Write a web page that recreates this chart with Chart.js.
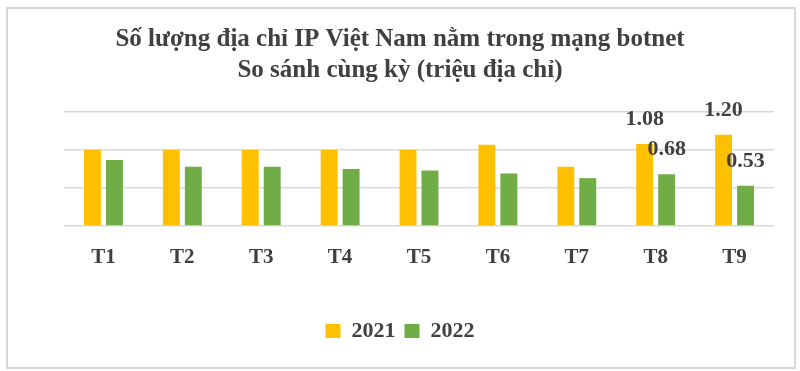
<!DOCTYPE html>
<html>
<head>
<meta charset="utf-8">
<script src="https://cdn.jsdelivr.net/npm/chart.js@4/dist/chart.umd.min.js"></script>
<style>
  html, body { margin: 0; padding: 0; background: #fff; }
  #wrap { position: relative; width: 800px; height: 371px; }
  #frame { position: absolute; left: 6px; top: 7px; width: 786px; height: 358px;
           border: 2px solid #d9d9d9; pointer-events: none; }
</style>
</head>
<body>
<div id="wrap">
  <canvas id="myChart" width="800" height="371"></canvas>
  <div id="frame"></div>
</div>
<script>
// DU LIEU
const thang = ["T1", "T2", "T3", "T4", "T5", "T6", "T7", "T8", "T9"];
const nam2021 = [1.00, 1.00, 1.00, 1.00, 1.00, 1.07, 0.78, 1.08, 1.20];
const nam2022 = [0.87, 0.78, 0.78, 0.75, 0.73, 0.69, 0.63, 0.68, 0.53];
// nhan chi hien o T8, T9
const nhan2021 = ["", "", "", "", "", "", "", "1.08", "1.20"];
const nhan2022 = ["", "", "", "", "", "", "", "0.68", "0.53"];
const tieuDe = ["Số lượng địa chỉ IP Việt Nam nằm trong mạng botnet", "So sánh cùng kỳ (triệu địa chỉ)"];

const chu = "#404040";
const serif = "'Liberation Serif', 'Times New Roman', serif";

// plugin ve nhan tren cot
const nhanCot = {
  id: "nhanCot",
  afterDatasetsDraw(chart) {
    const ctx = chart.ctx;
    const nhan = [nhan2021, nhan2022];
    ctx.save();
    ctx.font = "bold 22px " + serif;
    ctx.fillStyle = chu;
    ctx.textAlign = "center";
    ctx.textBaseline = "alphabetic";
    chart.data.datasets.forEach((ds, i) => {
      chart.getDatasetMeta(i).data.forEach((bar, j) => {
        if (nhan[i][j]) ctx.fillText(nhan[i][j], bar.x, bar.y - 19);
      });
    });
    ctx.restore();
  }
};

const grafica = document.getElementById("myChart");
new Chart(grafica, {
  type: "bar",
  data: {
    labels: thang,
    datasets: [
      { label: "2021", data: nam2021, backgroundColor: "#ffc000" },
      { label: "2022", data: nam2022, backgroundColor: "#70ad47" }
    ]
  },
  options: {
    responsive: false,
    animation: false,
    categoryPercentage: 0.557,
    barPercentage: 0.77,
    layout: { padding: { left: 26, right: 26, top: 24, bottom: 19 } },
    plugins: {
      title: {
        display: true,
        text: tieuDe,
        color: chu,
        font: { family: serif, size: 25, weight: "bold", lineHeight: 1.24 },
        padding: { top: 0, bottom: 26 }
      },
      legend: {
        position: "bottom",
        labels: {
          boxWidth: 15, boxHeight: 14, padding: 9,
          color: chu,
          font: { family: serif, size: 22, weight: "bold" }
        }
      },
      tooltip: { enabled: false }
    },
    scales: {
      y: {
        min: 0, max: 1.5,
        ticks: { display: false, stepSize: 0.5 },
        grid: { color: "#d9d9d9", lineWidth: 1.5, drawTicks: false },
        border: { display: false },
        afterFit: (s) => { s.width = 38; }
      },
      x: {
        grid: { display: false },
        border: { display: false },
        ticks: { color: chu, font: { family: serif, size: 21, weight: "bold" }, padding: 11 },
        afterFit: (s) => { s.height = 85; }
      }
    }
  },
  plugins: [nhanCot]
});
</script>
</body>
</html>
